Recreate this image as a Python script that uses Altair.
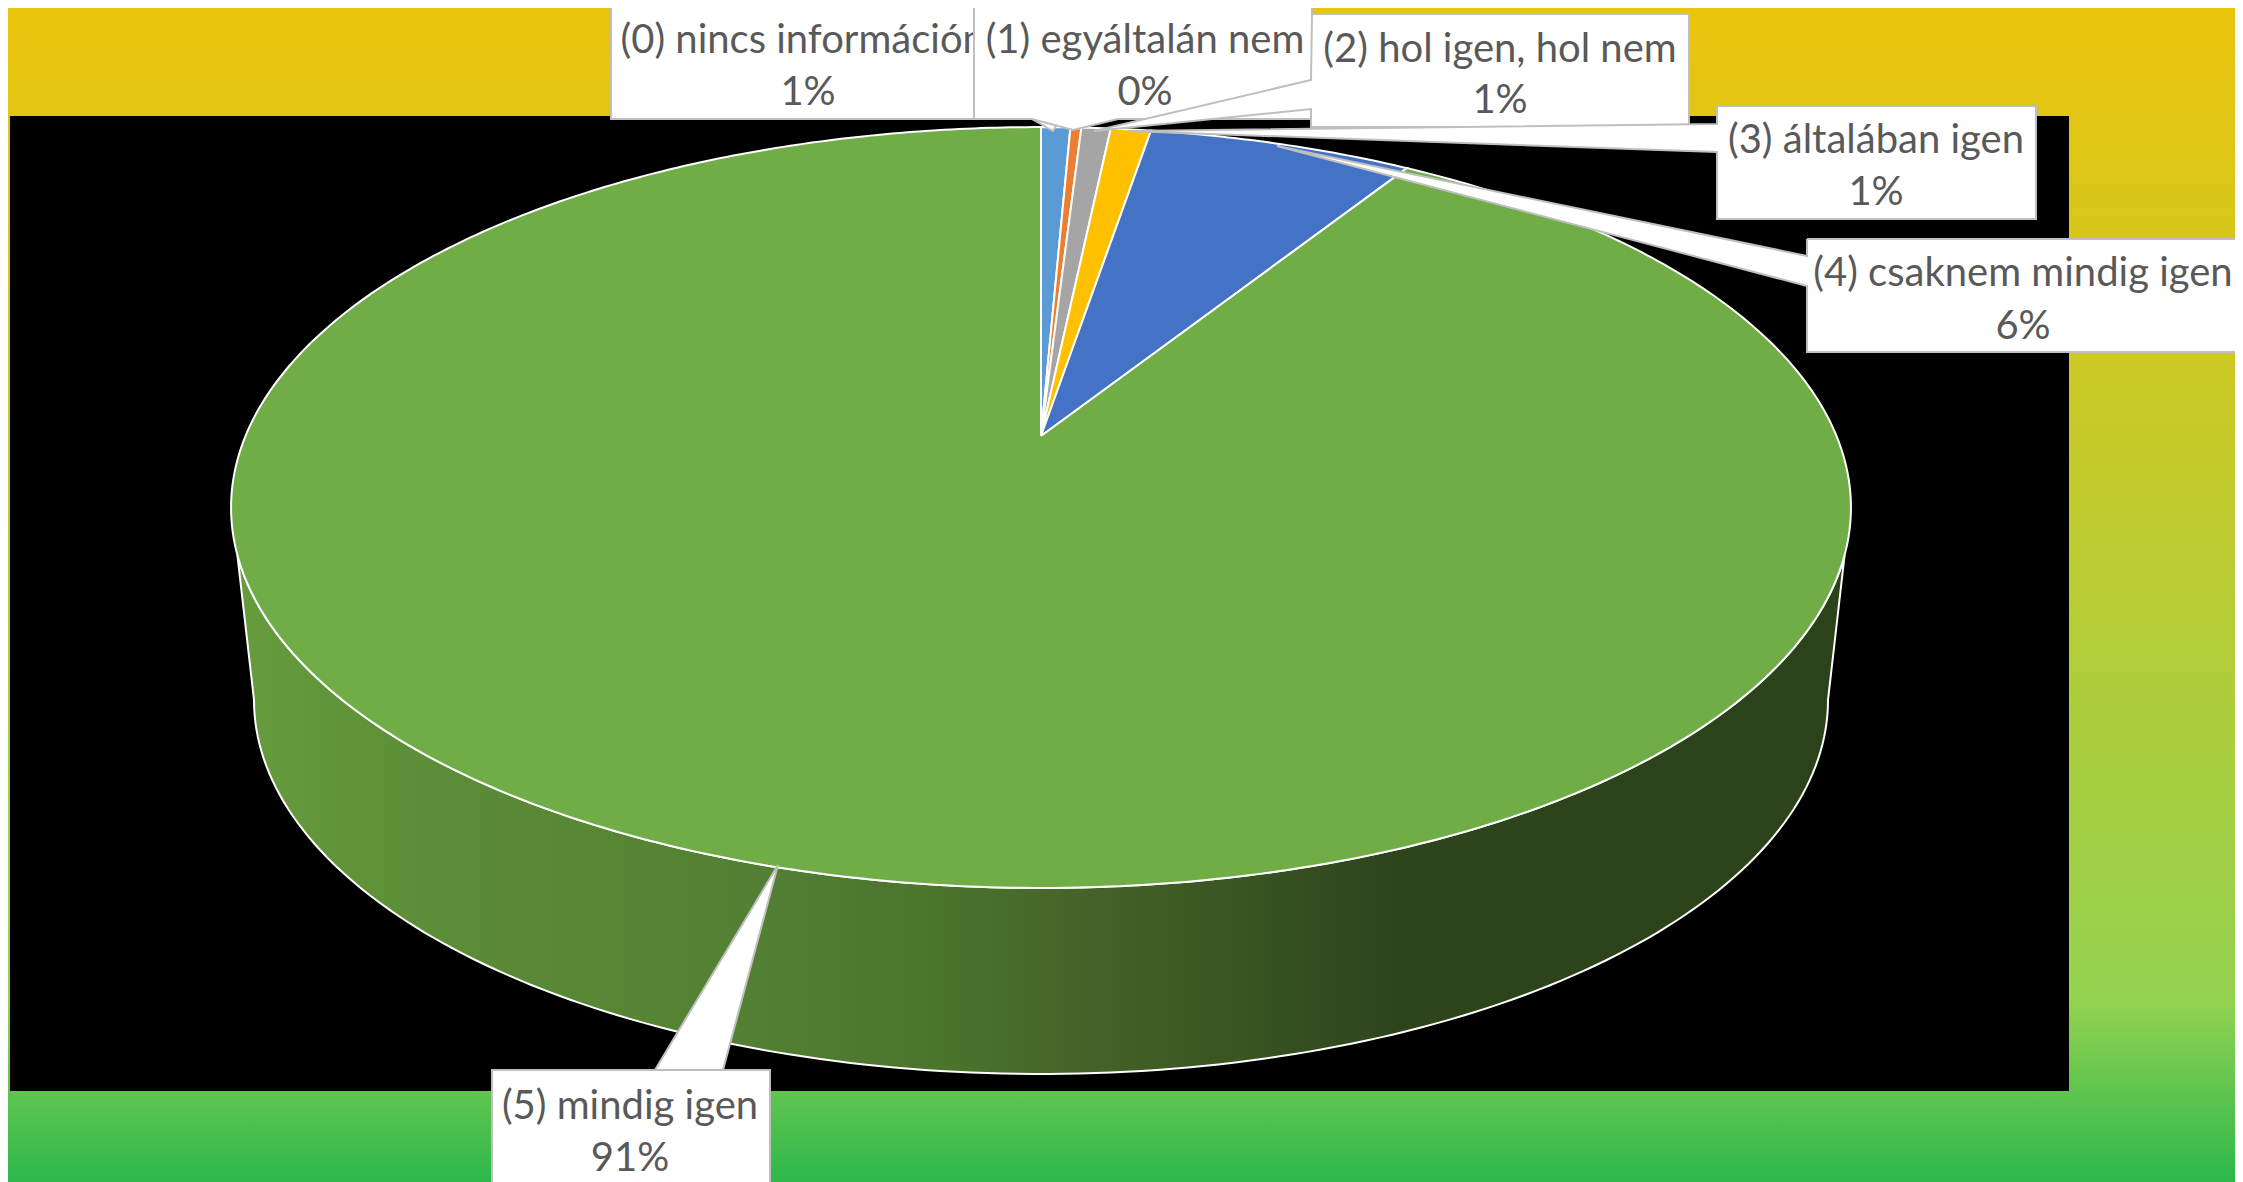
import numpy as np
import pandas as pd
import altair as alt

# ---- chart values ----
categories = ["(0) nincs információm", "(1) egyáltalán nem", "(2) hol igen, hol nem",
              "(3) általában igen", "(4) csaknem mindig igen", "(5) mindig igen"]
shares = [0.70, 0.26, 0.70, 0.96, 6.33, 91.05]
slice_colors = ["#5B9BD5", "#ED7D31", "#A5A5A5", "#FFC000", "#4472C4", "#70AD47"]

# ---- layout (target pixel space) ----
PAGE = 8
RIGHT, H = 2235, 1182
CX, AY, R, S, K = 1041, 436, 795.5, 367, 0.188
BOT_Y, BOT_RX, BOT_RY = 700, 787, 374
FONT = "Lato"
FS = 40

callouts = [
    [(611, 6), (1100, 6), (1100, 119), (1060, 119), (1053, 131), (1032, 119), (611, 119)],
    [(974, 6), (1312, 6), (1312, 119), (1118, 119), (1073, 130), (1032, 119), (974, 119)],
    [(1312, 14), (1689, 14), (1689, 127), (1311, 127), (1311, 109), (1094, 131), (1311, 80)],
    [(1717, 106), (2036, 106), (2036, 219), (1717, 219), (1717, 152), (1127, 131), (1717, 124)],
    [(1807, 239), (2260, 239), (2260, 352), (1807, 352), (1807, 286), (1277, 146), (1807, 256)],
    [(492, 1070), (770, 1070), (770, 1200), (492, 1200), (492, 1070), (655, 1070), (778, 865), (723, 1070)],
]
label_pos = [(808, 41, 93), (1145, 41, 93), (1500, 50, 101), (1876, 141, 193), (2023, 274, 327), (630, 1107, 1159)]

xs = alt.Scale(domain=[PAGE, RIGHT], range=[0, RIGHT - PAGE], nice=False, zero=False)
ys = alt.Scale(domain=[H, PAGE], range=[H - PAGE, 0], nice=False, zero=False)


def rim(theta):
    u, v = np.sin(theta), np.cos(theta)
    d = 1 + K * v
    return CX + R * u / d, AY - S * v / d


def polygon(px, py, **mark):
    df = pd.DataFrame({"px": list(px) + [px[0]], "py": list(py) + [py[0]]})
    df["i"] = range(len(df))
    return alt.Chart(df).mark_line(**mark).encode(
        x=alt.X("px:Q", scale=xs, axis=None),
        y=alt.Y("py:Q", scale=ys, axis=None),
        order="i:Q",
    )


def box(x1, x2, y1, y2, **mark):
    df = pd.DataFrame([{"a": x1, "b": x2, "c": y1, "d": y2}])
    return alt.Chart(df).mark_rect(**mark).encode(
        x=alt.X("a:Q", scale=xs, axis=None), x2="b:Q",
        y=alt.Y("c:Q", scale=ys, axis=None), y2="d:Q",
    )


layers = []

# page background and black plot backdrop
layers.append(box(PAGE, RIGHT, PAGE, H, fill=alt.Gradient(
    gradient="linear", x1=0, x2=0, y1=0, y2=1,
    stops=[alt.GradientStop(offset=0, color="#EBC40C"),
           alt.GradientStop(offset=0.845, color="#94D250"),
           alt.GradientStop(offset=1, color="#2CB84C")])))
layers.append(box(10, 2069, 116, 1091, fill="#000000"))

# side wall
t_top = np.radians(np.linspace(107.8, 252.2, 140))
tx, ty = rim(t_top)
t_bot = np.radians(np.linspace(270, 90, 160))
bx = CX + BOT_RX * np.sin(t_bot)
by = BOT_Y - BOT_RY * np.cos(t_bot)
wx = list(tx) + list(bx)
wy = list(ty) + list(by)
wall_stops = [(0, "#669C3E"), (0.12, "#5C8D37"), (0.33, "#527F33"), (0.45, "#4A722C"),
              (0.55, "#435F27"), (0.72, "#2E451C"), (1, "#2B421A")]
layers.append(polygon(wx, wy, stroke="#FFFFFF", strokeWidth=2, fill=alt.Gradient(
    gradient="linear", x1=0, x2=1, y1=0, y2=0,
    stops=[alt.GradientStop(offset=o, color=c) for o, c in wall_stops])))

# top face slices
edges = np.concatenate([[0], np.cumsum(shares)]) / np.sum(shares) * 2 * np.pi
for a, b, col in zip(edges[:-1], edges[1:], slice_colors):
    th = np.linspace(a, b, max(3, int((b - a) * 90)))
    rx, ry = rim(th)
    layers.append(polygon([CX] + list(rx), [AY] + list(ry), fill=col, stroke="#FFFFFF", strokeWidth=2))

# callouts with labels (later callouts overlap earlier ones)
for shape, name, share, (lx, l1, l2) in zip(callouts, categories, shares, label_pos):
    layers.append(polygon([p[0] for p in shape], [p[1] for p in shape],
                          fill="#FFFFFF", stroke="#BFBFBF", strokeWidth=2))
    tdf = pd.DataFrame({"lx": [lx, lx], "ly": [l1, l2], "t": [name, f"{share:.0f}%"]})
    layers.append(alt.Chart(tdf).mark_text(font=FONT, fontSize=FS, color="#595959", align="center",
                                            baseline="middle").encode(
        x=alt.X("lx:Q", scale=xs, axis=None),
        y=alt.Y("ly:Q", scale=ys, axis=None),
        text="t:N",
    ))

chart = alt.layer(*layers).properties(
    width=RIGHT - PAGE, height=H - PAGE, padding=0,
    autosize=alt.AutoSizeParams(type="none"),
).configure_view(stroke=None)

chart.save("out.html", embed_options={"renderer": "svg", "actions": False})
